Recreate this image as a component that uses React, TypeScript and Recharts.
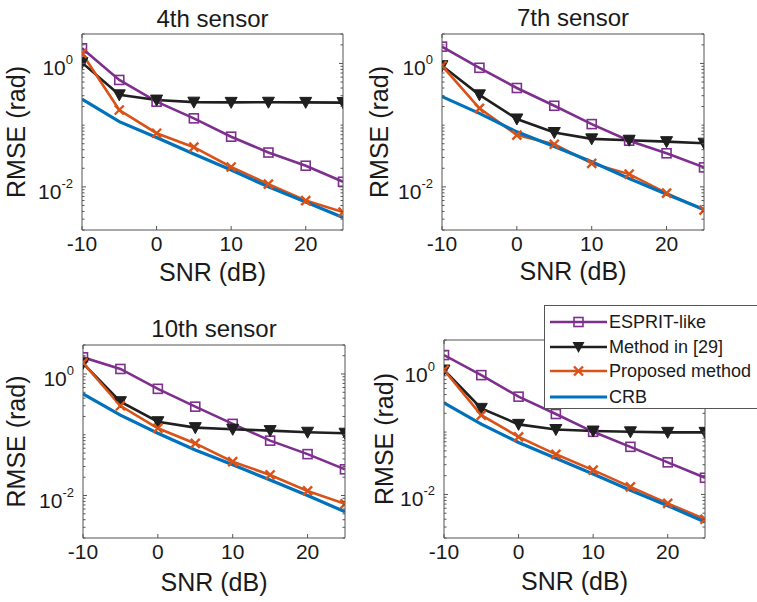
import { LineChart, Line, XAxis, YAxis, Legend } from 'recharts'

// SNR grid shared by all four panels
const snr = [-10, -5, 0, 5, 10, 15, 20, 25]

// 4th sensor
const esprit4th = [1.76, 0.54, 0.24, 0.129, 0.065, 0.036, 0.022, 0.0121]
const method4th = [1.03, 0.31, 0.255, 0.236, 0.234, 0.235, 0.234, 0.232]
const proposed4th = [1.46, 0.176, 0.074, 0.044, 0.021, 0.0111, 0.006, 0.0039]
const crb4th = [0.265, 0.114, 0.063, 0.034, 0.0187, 0.01, 0.0057, 0.0032]

// 7th sensor
const esprit7th = [1.87, 0.85, 0.4, 0.206, 0.104, 0.056, 0.035, 0.0207]
const method7th = [0.92, 0.31, 0.126, 0.076, 0.06, 0.057, 0.054, 0.051]
const proposed7th = [0.92, 0.187, 0.069, 0.049, 0.024, 0.0161, 0.0079, 0.0042]
const crb7th = [0.29, 0.155, 0.078, 0.045, 0.0255, 0.0137, 0.0076, 0.0043]

// 10th sensor
const esprit10th = [1.88, 1.21, 0.57, 0.29, 0.151, 0.08, 0.048, 0.027]
const method10th = [1.5, 0.35, 0.164, 0.131, 0.123, 0.117, 0.11, 0.106]
const proposed10th = [1.53, 0.3, 0.128, 0.072, 0.036, 0.0218, 0.0119, 0.0073]
const crb10th = [0.47, 0.21, 0.106, 0.056, 0.032, 0.018, 0.01, 0.0054]

// last panel (title hidden behind the legend)
const espritLast = [1.72, 0.82, 0.37, 0.195, 0.101, 0.058, 0.0327, 0.0185]
const methodLast = [0.99, 0.24, 0.133, 0.11, 0.104, 0.101, 0.099, 0.099]
const proposedLast = [0.99, 0.187, 0.084, 0.044, 0.0245, 0.0132, 0.0072, 0.004]
const crbLast = [0.295, 0.134, 0.068, 0.038, 0.0212, 0.0117, 0.0066, 0.0036]

const seriesNames = ['ESPRIT-like', 'Method in [29]', 'Proposed method', 'CRB']

const xTicks = [-10, 0, 10, 20]
const yMajorTicks = [0.01, 1]
const yTickExponents = ['-2', '0']
const yMinorTicks = [
  0.002, 0.003, 0.004, 0.005, 0.006, 0.007, 0.008, 0.009,
  0.02, 0.03, 0.04, 0.05, 0.06, 0.07, 0.08, 0.09, 0.1,
  0.2, 0.3, 0.4, 0.5, 0.6, 0.7, 0.8, 0.9, 2, 3,
]
const xDomain = [-10, 25]
const yDomain = [0.002, 3]

const FONT = '"Liberation Sans", Arial, Helvetica, sans-serif'
const AXIS = '#555'
const TEXT = '#1a1a1a'
const PURPLE = '#7E2F8E'
const BLACK = '#1f1f1f'
const ORANGE = '#D95319'
const BLUE = '#0072BD'

const buildRows = (e: number[], m: number[], p: number[], c: number[]) =>
  snr.map((s, i) => ({ snr: s, esprit: e[i], method: m[i], proposed: p[i], crb: c[i] }))

// box = plot area [x0, y0, x1, y1] in page pixels
const panels = [
  { title: '4th sensor', box: [82, 34, 343, 230], titleY: 27, ylabelX: 25, xlabelY: 281, rows: buildRows(esprit4th, method4th, proposed4th, crb4th) },
  { title: '7th sensor', box: [442, 34, 704, 230], titleY: 26, ylabelX: 388, xlabelY: 280, rows: buildRows(esprit7th, method7th, proposed7th, crb7th) },
  { title: '10th sensor', box: [83, 345, 345, 538], titleY: 337, ylabelX: 25, xlabelY: 591, rows: buildRows(esprit10th, method10th, proposed10th, crb10th) },
  { title: '', box: [444, 340, 705, 538], titleY: 0, ylabelX: 393, xlabelY: 590, rows: buildRows(espritLast, methodLast, proposedLast, crbLast), legend: true },
]

function SquareDot(props: any) {
  const { cx, cy } = props
  if (cx == null || cy == null) return null
  return <rect x={cx - 4.5} y={cy - 4.5} width={9} height={9} fill="none" stroke={PURPLE} strokeWidth={1.6} />
}

function TriangleDot(props: any) {
  const { cx, cy } = props
  if (cx == null || cy == null) return null
  return <polygon points={`${cx - 6},${cy - 5} ${cx + 6},${cy - 5} ${cx},${cy + 6}`} fill={BLACK} stroke={BLACK} strokeWidth={1} />
}

function CrossDot(props: any) {
  const { cx, cy } = props
  if (cx == null || cy == null) return null
  return (
    <g stroke={ORANGE} strokeWidth={2.4}>
      <line x1={cx - 4.5} y1={cy - 4.5} x2={cx + 4.5} y2={cy + 4.5} />
      <line x1={cx - 4.5} y1={cy + 4.5} x2={cx + 4.5} y2={cy - 4.5} />
    </g>
  )
}

function BottomTick(props: any) {
  const { x, y, payload } = props
  return (
    <g>
      <line x1={x} y1={y} x2={x} y2={y - 4} stroke={AXIS} />
      <text x={x} y={y + 21} textAnchor="middle" fontSize={21} fill={TEXT} fontFamily={FONT}>
        {payload.value}
      </text>
    </g>
  )
}

function TopTick(props: any) {
  const { x, y } = props
  return <line x1={x} y1={y} x2={x} y2={y + 4} stroke={AXIS} />
}

function LeftTick(props: any) {
  const { x, y, payload } = props
  const idx = yMajorTicks.indexOf(payload.value)
  const major = idx >= 0
  return (
    <g>
      <line x1={x} y1={y} x2={x + (major ? 4 : 2.5)} y2={y} stroke={AXIS} />
      {major && (
        <text x={x - 9} y={y + 12} textAnchor="end" fontSize={21} fill={TEXT} fontFamily={FONT}>
          10
          <tspan dy={-11} fontSize={13}>{yTickExponents[idx]}</tspan>
        </text>
      )}
    </g>
  )
}

function RightTick(props: any) {
  const { x, y, payload } = props
  const major = yMajorTicks.indexOf(payload.value) >= 0
  return <line x1={x} y1={y} x2={x - (major ? 4 : 2.5)} y2={y} stroke={AXIS} />
}

function LegendBox() {
  const markers = [
    <rect key="m0" x={30} y={-4.5} width={9} height={9} fill="none" stroke={PURPLE} strokeWidth={1.6} />,
    <polygon key="m1" points="28.5,-5 40.5,-5 34.5,6" fill={BLACK} />,
    <g key="m2" stroke={ORANGE} strokeWidth={2.4}>
      <line x1={30} y1={-4.5} x2={39} y2={4.5} />
      <line x1={30} y1={4.5} x2={39} y2={-4.5} />
    </g>,
    null,
  ]
  const colors = [PURPLE, BLACK, ORANGE, BLUE]
  const rowY = [17, 42, 66, 92]
  return (
    <svg width={216} height={104} style={{ display: 'block', overflow: 'visible' }}>
      <rect x={0.5} y={0.5} width={215} height={103} fill="white" stroke={AXIS} />
      {seriesNames.map((name, i) => (
        <g key={name} transform={`translate(0, ${rowY[i]})`}>
          <line x1={6} y1={0} x2={63} y2={0} stroke={colors[i]} strokeWidth={i === 3 ? 3.2 : 2.6} />
          {markers[i]}
          <text x={65} y={6} fontSize={18} fill={TEXT} fontFamily={FONT}>
            {name}
          </text>
        </g>
      ))}
    </svg>
  )
}

function Panel({ panel }: { panel: (typeof panels)[number] }) {
  const [x0, y0, x1, y1] = panel.box
  const width = x1 - x0 + 92
  const height = y1 - y0 + 72
  const left = x0 - 80
  const top = y0 - 12
  return (
    <div style={{ position: 'absolute', left, top }}>
      <LineChart width={width} height={height} data={panel.rows} margin={{ top: 10, right: 10, bottom: 0, left: 0 }}>
        <XAxis
          xAxisId="b"
          dataKey="snr"
          type="number"
          domain={xDomain}
          allowDataOverflow
          ticks={xTicks}
          interval={0}
          height={60}
          tickSize={0}
          tickMargin={0}
          tickLine={false}
          axisLine={{ stroke: AXIS }}
          tick={<BottomTick />}
        />
        <XAxis
          xAxisId="t"
          orientation="top"
          type="number"
          domain={xDomain}
          allowDataOverflow
          ticks={xTicks}
          interval={0}
          height={2}
          tickSize={0}
          tickMargin={0}
          tickLine={false}
          axisLine={{ stroke: AXIS }}
          tick={<TopTick />}
        />
        <YAxis
          yAxisId="l"
          type="number"
          scale="log"
          domain={yDomain}
          allowDataOverflow
          ticks={[...yMinorTicks, ...yMajorTicks]}
          interval={0}
          width={80}
          tickSize={0}
          tickMargin={0}
          tickLine={false}
          axisLine={{ stroke: AXIS }}
          tick={<LeftTick />}
        />
        <YAxis
          yAxisId="r"
          orientation="right"
          type="number"
          scale="log"
          domain={yDomain}
          allowDataOverflow
          ticks={[...yMinorTicks, ...yMajorTicks]}
          interval={0}
          width={2}
          tickSize={0}
          tickMargin={0}
          tickLine={false}
          axisLine={{ stroke: AXIS }}
          tick={<RightTick />}
        />
        <Line xAxisId="b" yAxisId="l" type="linear" dataKey="esprit" name={seriesNames[0]} stroke={PURPLE} strokeWidth={2.6} dot={<SquareDot />} isAnimationActive={false} />
        <Line xAxisId="b" yAxisId="l" type="linear" dataKey="method" name={seriesNames[1]} stroke={BLACK} strokeWidth={2.6} dot={<TriangleDot />} isAnimationActive={false} />
        <Line xAxisId="b" yAxisId="l" type="linear" dataKey="proposed" name={seriesNames[2]} stroke={ORANGE} strokeWidth={2.6} dot={<CrossDot />} isAnimationActive={false} />
        <Line xAxisId="b" yAxisId="l" type="linear" dataKey="crb" name={seriesNames[3]} stroke={BLUE} strokeWidth={3.2} dot={false} isAnimationActive={false} />
        {panel.legend && (
          <Legend
            layout="vertical"
            align="center"
            verticalAlign="middle"
            content={() => <LegendBox />}
            wrapperStyle={{ left: 544 - left, top: 305 - top, width: 216, height: 104 }}
          />
        )}
      </LineChart>
    </div>
  )
}

export default function App() {
  return (
    <div style={{ position: 'absolute', left: 0, top: 0, width: 757, height: 602, background: 'white', overflow: 'hidden' }}>
      {panels.map((p, i) => (
        <Panel key={i} panel={p} />
      ))}
      <svg width={757} height={602} style={{ position: 'absolute', left: 0, top: 0, pointerEvents: 'none' }}>
        {panels.map((p, i) => {
          const [x0, y0, x1, y1] = p.box
          const cx = (x0 + x1) / 2
          const cy = (y0 + y1) / 2
          return (
            <g key={i} fontFamily={FONT} fill={TEXT}>
              {p.title && (
                <text x={cx} y={p.titleY} textAnchor="middle" fontSize={24}>
                  {p.title}
                </text>
              )}
              <text x={cx} y={p.xlabelY} textAnchor="middle" fontSize={25}>
                SNR (dB)
              </text>
              <text x={p.ylabelX} y={cy} textAnchor="middle" fontSize={25} transform={`rotate(-90, ${p.ylabelX}, ${cy})`}>
                RMSE (rad)
              </text>
            </g>
          )
        })}
      </svg>
    </div>
  )
}
